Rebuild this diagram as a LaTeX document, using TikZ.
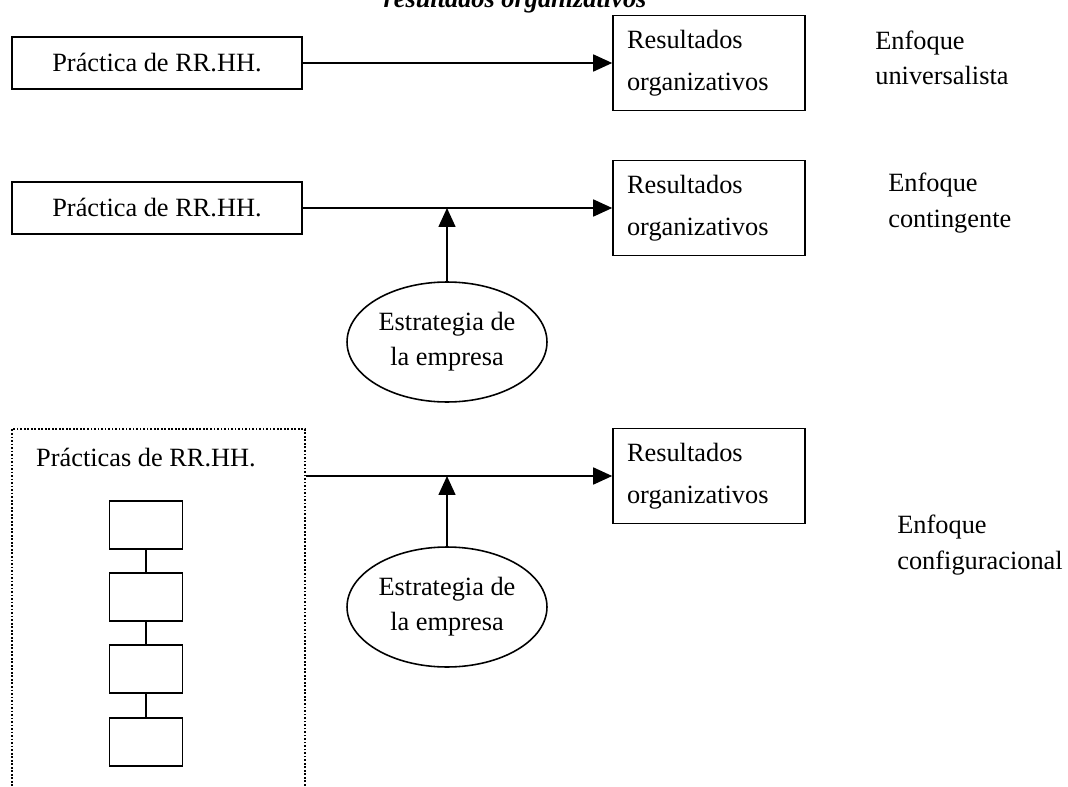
\documentclass[tikz,border=0pt]{standalone}
\usepackage{fontspec}
\setmainfont{Liberation Serif}
\usetikzlibrary{arrows.meta,positioning,shapes.geometric}
\tikzset{
  font=\fontsize{15}{20}\selectfont,
  box/.style   ={draw, line width=0.9pt, minimum width=5.8cm, minimum height=1.04cm, inner sep=0pt},
  res/.style   ={draw, line width=0.9pt, align=left, text width=3.28cm, inner xsep=0.28cm,
                 minimum height=1.9cm, font=\fontsize{15}{24}\selectfont},
  strat/.style ={draw, ellipse, line width=0.9pt, align=center, minimum width=4cm,
                 minimum height=2.4cm, inner sep=0pt},
  dotbox/.style={draw, dash pattern=on 1pt off 1pt, line width=1.1pt, anchor=north west,
                 minimum width=5.86cm, minimum height=7.6cm},
  small/.style ={draw, line width=0.9pt, minimum width=1.46cm, minimum height=0.96cm},
  arr/.style   ={-{Triangle[length=0.38cm, width=0.34cm]}, line width=0.9pt},
  note/.style  ={align=left, anchor=west, inner sep=0pt},
}

\begin{document}
\begin{tikzpicture}[x=0.02cm, y=-0.02cm]
  \clip (0,0) rectangle (1068,787);
  % title, cut by the top edge
  \node[font=\fontsize{15}{20}\selectfont\bfseries\itshape, anchor=base] (title) at (515,8)
        {resultados organizativos};

  % universalista
  \node[box] (p1) at (157,63) {Práctica de RR.HH.};
  \node[res] (r1) at (709,63) {Resultados\\organizativos};
  \node[note] (n1) at (875,58) {Enfoque\\universalista};
  \draw[arr] (p1) -- (r1);

  % contingente
  \node[box]   (p2) at (157,208) {Práctica de RR.HH.};
  \node[res]   (r2) at (709,208) {Resultados\\organizativos};
  \node[note]  (n2) at (888,203) {Enfoque\\contingente};
  \node[strat] (s2) at (447,342) {Estrategia de\\la empresa};
  \draw[arr] (p2) -- (r2);
  \draw[arr] (s2) -- (s2 |- p2);

  % configuracional
  \node[dotbox] (prac) at (11,428) {};
  \node (ptit) at (146,458) {Prácticas de RR.HH.};
  \foreach \i/\y in {1/525,2/597,3/669,4/742}
    \node[small] (q\i) at (146,\y) {};
  \draw[line width=0.9pt] (q1) -- (q2) (q2) -- (q3) (q3) -- (q4);
  \node[res]   (r3) at (709,476) {Resultados\\organizativos};
  \node[note]  (n3) at (897,545) {Enfoque\\configuracional};
  \node[strat] (s3) at (447,607) {Estrategia de\\la empresa};
  \draw[arr] (prac.east |- r3) -- (r3);
  \draw[arr] (s3) -- (s3 |- r3);
\end{tikzpicture}
\end{document}
